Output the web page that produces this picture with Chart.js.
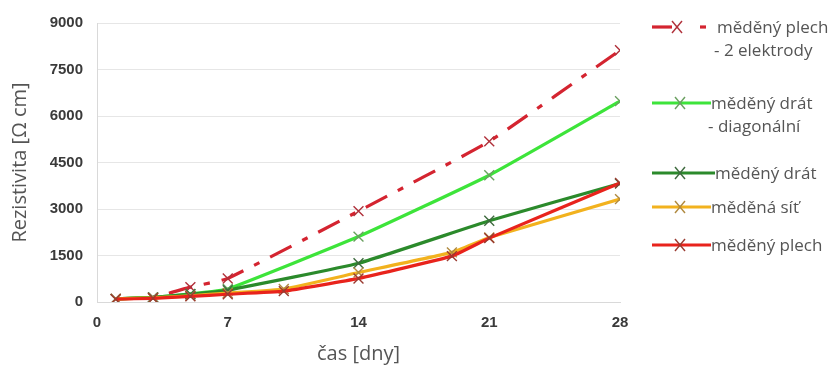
<!DOCTYPE html>
<html>
<head>
<meta charset="utf-8">
<script src="https://cdn.jsdelivr.net/npm/chart.js@4/dist/chart.umd.min.js"></script>
<style>
  html, body { margin: 0; padding: 0; background: #fff; }
  #wrap { position: relative; width: 838px; height: 378px; }
  #legend { position: absolute; left: 0; top: 0; font-family: "Open Sans", sans-serif; font-size: 17px; color: #555; }
  .item { position: absolute; white-space: nowrap; line-height: 20px; }
  .item svg { position: absolute; }
</style>
</head>
<body>
<div id="wrap">
  <canvas id="chart" width="838" height="378"></canvas>
  <div id="legend"></div>
</div>
<script>
'use strict';

// ------------------------------------------------------- //
// Data (days / resistivity in Ohm cm)
// ------------------------------------------------------ //
var xTicks = [0, 7, 14, 21, 28];
var yTicks = [0, 1500, 3000, 4500, 6000, 7500, 9000];

var seriesNames = [
    ['měděný plech', '- 2 elektrody'],
    ['měděný drát', '- diagonální'],
    ['měděný drát'],
    ['měděná síť'],
    ['měděný plech']
];

var plech2Days   = [1, 3, 5, 7, 14, 21, 28];
var plech2Values = [100, 150, 480, 760, 2930, 5180, 8120];

var dratDiagDays   = [1, 3, 5, 7, 14, 21, 28];
var dratDiagValues = [100, 150, 260, 420, 2110, 4090, 6480];

var dratDays   = [1, 3, 5, 7, 14, 21, 28];
var dratValues = [100, 150, 250, 380, 1250, 2620, 3820];

var sitDays   = [1, 3, 5, 7, 10, 14, 19, 21, 28];
var sitValues = [100, 130, 200, 290, 420, 950, 1600, 2080, 3320];

var plechDays   = [1, 3, 5, 7, 10, 14, 19, 21, 28];
var plechValues = [90, 120, 180, 250, 350, 760, 1480, 2060, 3840];

var colors = ['#d42430', '#3de43a', '#2b8a2b', '#f2b21e', '#e8231c'];
var markColors = ['#b0303a', '#6aa060', '#3e6a3e', '#b08a40', '#9a3a30'];

function pts(days, vals) {
    return days.map(function(d, i) { return { x: d, y: vals[i] }; });
}

var allDays = [plech2Days, dratDiagDays, dratDays, sitDays, plechDays];
var allVals = [plech2Values, dratDiagValues, dratValues, sitValues, plechValues];
var orders = [4, 3, 2, 1, 0];

var datasets = seriesNames.map(function(name, i) {
    return {
        label: name.join(' '),
        data: pts(allDays[i], allVals[i]),
        borderColor: colors[i],
        backgroundColor: colors[i],
        borderWidth: 3.2,
        borderDash: i === 0 ? [24, 12, 6, 12] : [],
        pointStyle: 'crossRot',
        pointRadius: 7,
        pointBorderWidth: 1.4,
        pointBorderColor: markColors[i],
        tension: 0.12,
        order: orders[i]
    };
});

var tickFont = { family: 'Liberation Sans', size: 15, weight: 'bold' };
var titleFont = { family: 'Open Sans', size: 20 };

var ctx = document.getElementById('chart').getContext('2d');
var chart = new Chart(ctx, {
    type: 'line',
    data: { datasets: datasets },
    options: {
        responsive: false,
        animation: false,
        layout: { padding: { top: 16, right: 218, bottom: 0, left: 0 } },
        plugins: { legend: { display: false }, tooltip: { enabled: false } },
        scales: {
            x: {
                type: 'linear',
                min: 0, max: 28,
                afterBuildTicks: function(s) { s.ticks = xTicks.map(function(v) { return { value: v }; }); },
                afterFit: function(s) { s.height = 76; },
                ticks: { font: tickFont, color: '#3a3a3a', padding: 12 },
                grid: { display: false, drawTicks: false },
                border: { color: '#d9d9d9', width: 1 },
                title: { display: true, text: 'čas [dny]', font: titleFont, color: '#555', padding: { top: 0, bottom: 12 } }
            },
            y: {
                min: 0, max: 9000,
                afterBuildTicks: function(s) { s.ticks = yTicks.map(function(v) { return { value: v }; }); },
                afterFit: function(s) { s.width = 97; },
                ticks: { font: tickFont, color: '#3a3a3a', padding: 14, callback: function(v) { return String(v); } },
                grid: { color: '#e6e6e6', drawTicks: false },
                border: { color: '#d9d9d9', width: 1 },
                title: { display: true, text: 'Rezistivita [Ω cm]', font: titleFont, color: '#555', padding: { top: 8, bottom: 0 } }
            }
        }
    }
});

// ------------------------------------------------------- //
// Legend (HTML, multi-line labels)
// ------------------------------------------------------ //
var legendTop = [17, 93, 163, 197, 235];
var legendTextX = [717, 711, 715, 711, 711];
var legend = document.getElementById('legend');

seriesNames.forEach(function(name, i) {
    var div = document.createElement('div');
    div.className = 'item';
    div.style.left = legendTextX[i] + 'px';
    div.style.top = legendTop[i] + 'px';
    div.innerHTML = name.map(function(t, j) { return '<div style="margin-left:' + (j ? -3 : 0) + 'px;margin-top:' + (j ? 3 : 0) + 'px">' + t + '</div>'; }).join('');
    legend.appendChild(div);

    var cy = legendTop[i] + 10;
    var svg = document.createElementNS('http://www.w3.org/2000/svg', 'svg');
    svg.setAttribute('width', 70);
    svg.setAttribute('height', 20);
    svg.style.position = 'absolute';
    svg.style.left = '645px';
    svg.style.top = (cy - 10) + 'px';
    var line = i === 0
        ? '<line x1="7" y1="10" x2="27" y2="10" stroke="' + colors[i] + '" stroke-width="3.2"/>' +
          '<line x1="55" y1="10" x2="61" y2="10" stroke="' + colors[i] + '" stroke-width="3.2"/>'
        : '<line x1="7" y1="10" x2="' + (legendTextX[i] - 645) + '" y2="10" stroke="' + colors[i] + '" stroke-width="3.2"/>';
    var mx = i === 0 ? 32 : 35;
    svg.innerHTML = line +
        '<line x1="' + (mx - 5) + '" y1="4" x2="' + (mx + 5) + '" y2="16" stroke="' + markColors[i] + '" stroke-width="1.4"/>' +
        '<line x1="' + (mx - 5) + '" y1="16" x2="' + (mx + 5) + '" y2="4" stroke="' + markColors[i] + '" stroke-width="1.4"/>';
    legend.appendChild(svg);
});
</script>
</body>
</html>
